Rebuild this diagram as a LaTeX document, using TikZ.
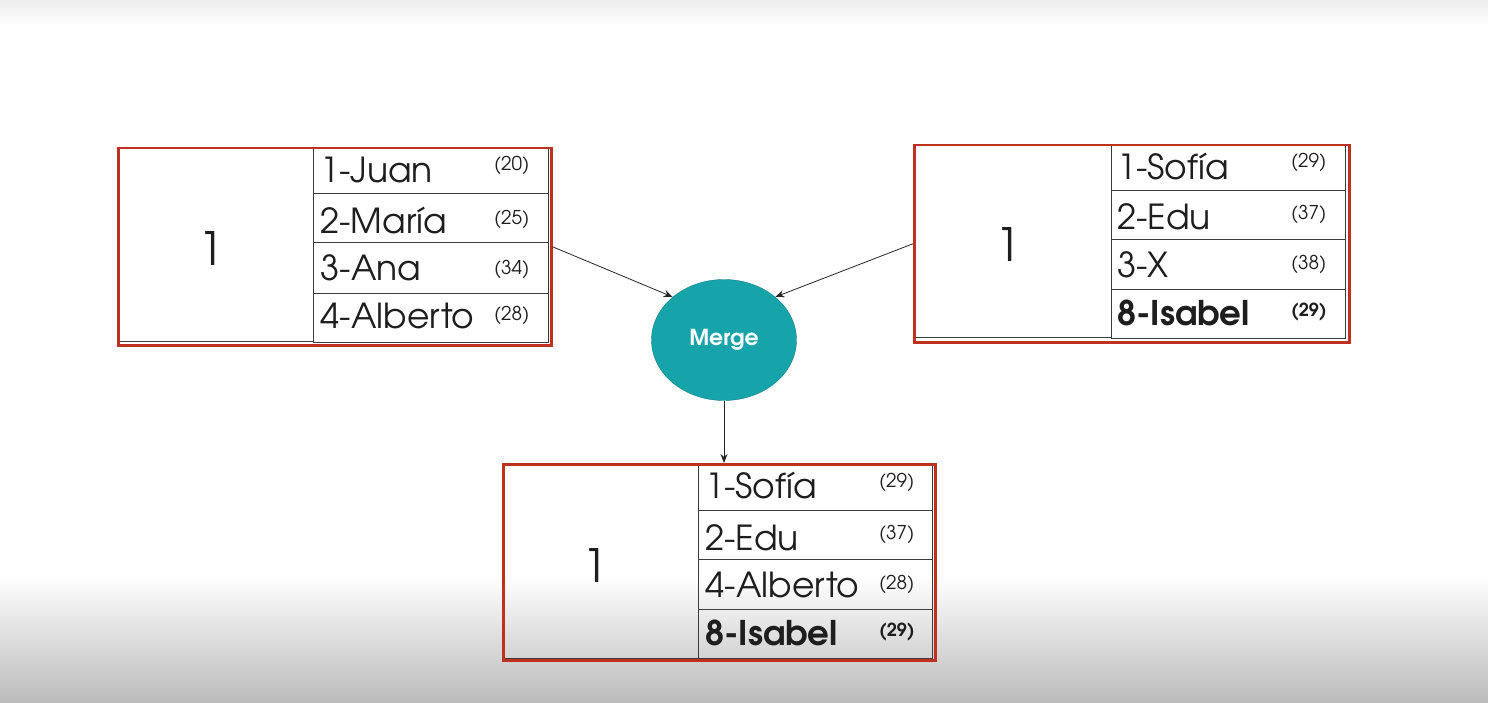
\documentclass[tikz,border=0pt]{standalone}
\usepackage{fontspec}
\setmainfont{TeX Gyre Adventor}
\usetikzlibrary{shapes.geometric,arrows.meta}
\definecolor{boxred}{RGB}{192,48,32}
\definecolor{mteal}{RGB}{23,163,170}
\definecolor{cellgray}{RGB}{60,60,60}
\definecolor{txt}{RGB}{30,30,30}
\definecolor{shadegray}{RGB}{187,187,187}
\definecolor{topgray}{RGB}{236,236,236}
\tikzset{
  redframe/.style={draw=boxred, line width=2.5pt},
  cell/.style={draw=cellgray, line width=0.9pt},
  rowtxt/.style={anchor=base west, inner sep=0pt, text=txt, font=\fontsize{34.5}{36}\selectfont},
  rowtxtb/.style={anchor=base west, inner sep=0pt, text=txt, font=\fontsize{34}{36}\selectfont\bfseries},
  agetxt/.style={anchor=north west, inner sep=0pt, text=txt, font=\fontsize{19}{21}\selectfont},
  agetxtb/.style={anchor=north west, inner sep=0pt, text=txt, font=\fontsize{18}{21}\selectfont\bfseries},
  bigone/.style={inner sep=0pt, text=txt, font=\fontsize{46}{48}\selectfont},
  conn/.style={draw=black!85, line width=0.8pt, -{Stealth[length=9pt,width=7pt]}},
}
\begin{document}
\begin{tikzpicture}[x=1pt,y=-1pt]
\useasboundingbox (0,0) rectangle (1488,703);
\fill[white] (0,0) rectangle (1488,703);
\shade[top color=topgray, bottom color=white] (0,0) rectangle (1488,25);
\shade[top color=white, bottom color=shadegray] (0,575) rectangle (1488,703);

% ---------- left box ----------
\node[cell, minimum width=195pt, minimum height=193pt, inner sep=0pt, anchor=north west] (lcell) at (118,148) {};
\node[bigone] (lone) at (211,249) {1};
\draw[cell] (313,148) rectangle (548,193);
\draw[cell] (313,193) rectangle (548,242);
\draw[cell] (313,242) rectangle (548,293);
\draw[cell] (313,293) rectangle (548,342);
\node[redframe, minimum width=433pt, minimum height=197pt, inner sep=0pt, anchor=north west] (lbox) at (117,147) {};
\node[rowtxt] (l1) at (320,183) {1-Juan};
\node[rowtxt] (l2) at (320,234) {2-María};
\node[rowtxt] (l3) at (320,280) {3-Ana};
\node[rowtxt] (l4) at (320,328) {4-Alberto};
\node[agetxt] (la1) at (494,156) {(20)};
\node[agetxt] (la2) at (494,210) {(25)};
\node[agetxt] (la3) at (494,260) {(34)};
\node[agetxt] (la4) at (494,306) {(28)};

% ---------- right box ----------
\node[cell, minimum width=196pt, minimum height=192pt, inner sep=0pt, anchor=north west] (rcell) at (915,145) {};
\node[bigone] (rone) at (1008,245) {1};
\draw[cell] (1111,145) rectangle (1345,190);
\draw[cell] (1111,190) rectangle (1345,239);
\draw[cell] (1111,239) rectangle (1345,289);
\draw[cell] (1111,289) rectangle (1345,338);
\node[redframe, minimum width=435pt, minimum height=197pt, inner sep=0pt, anchor=north west] (rbox) at (913,144) {};
\node[rowtxt] (r1) at (1117,180) {1-Sofía};
\node[rowtxt] (r2) at (1117,230) {2-Edu};
\node[rowtxt] (r3) at (1117,277) {3-X};
\node[rowtxtb] (r4) at (1117,325) {8-Isabel};
\node[agetxt] (ra1) at (1291,153) {(29)};
\node[agetxt] (ra2) at (1291,205) {(37)};
\node[agetxt] (ra3) at (1291,255) {(38)};
\node[agetxtb] (ra4) at (1291,303) {(29)};

% ---------- bottom box ----------
\node[cell, minimum width=196pt, minimum height=195pt, inner sep=0pt, anchor=north west] (bcell) at (502,463) {};
\node[bigone] (bone) at (595,565) {1};
\draw[cell] (698,463) rectangle (932,510);
\draw[cell] (698,510) rectangle (932,559);
\draw[cell] (698,559) rectangle (932,609);
\draw[cell] (698,609) rectangle (932,658);
\node[redframe, minimum width=432pt, minimum height=196pt, inner sep=0pt, anchor=north west] (bbox) at (502,463) {};
\node[rowtxt] (b1) at (705,498) {1-Sofía};
\node[rowtxt] (b2) at (705,550) {2-Edu};
\node[rowtxt] (b3) at (705,597) {4-Alberto};
\node[rowtxtb] (b4) at (705,645) {8-Isabel};
\node[agetxt] (ba1) at (879,473) {(29)};
\node[agetxt] (ba2) at (879,525) {(37)};
\node[agetxt] (ba3) at (879,575) {(28)};
\node[agetxtb] (ba4) at (879,623) {(29)};

% ---------- merge ----------
\node[ellipse, fill=mteal, draw=mteal!80!black, line width=0.4pt, minimum width=145pt, minimum height=121pt, inner sep=0pt, text=white, font=\fontsize{22}{24}\selectfont\bfseries] (merge) at (724,340) {Merge};

\draw[conn] (lbox.east) -- (merge.140);
\draw[conn] (rbox.west) -- (merge.40);
\draw[conn] (merge.south) -- (merge.south |- bbox.north);
\end{tikzpicture}
\end{document}
